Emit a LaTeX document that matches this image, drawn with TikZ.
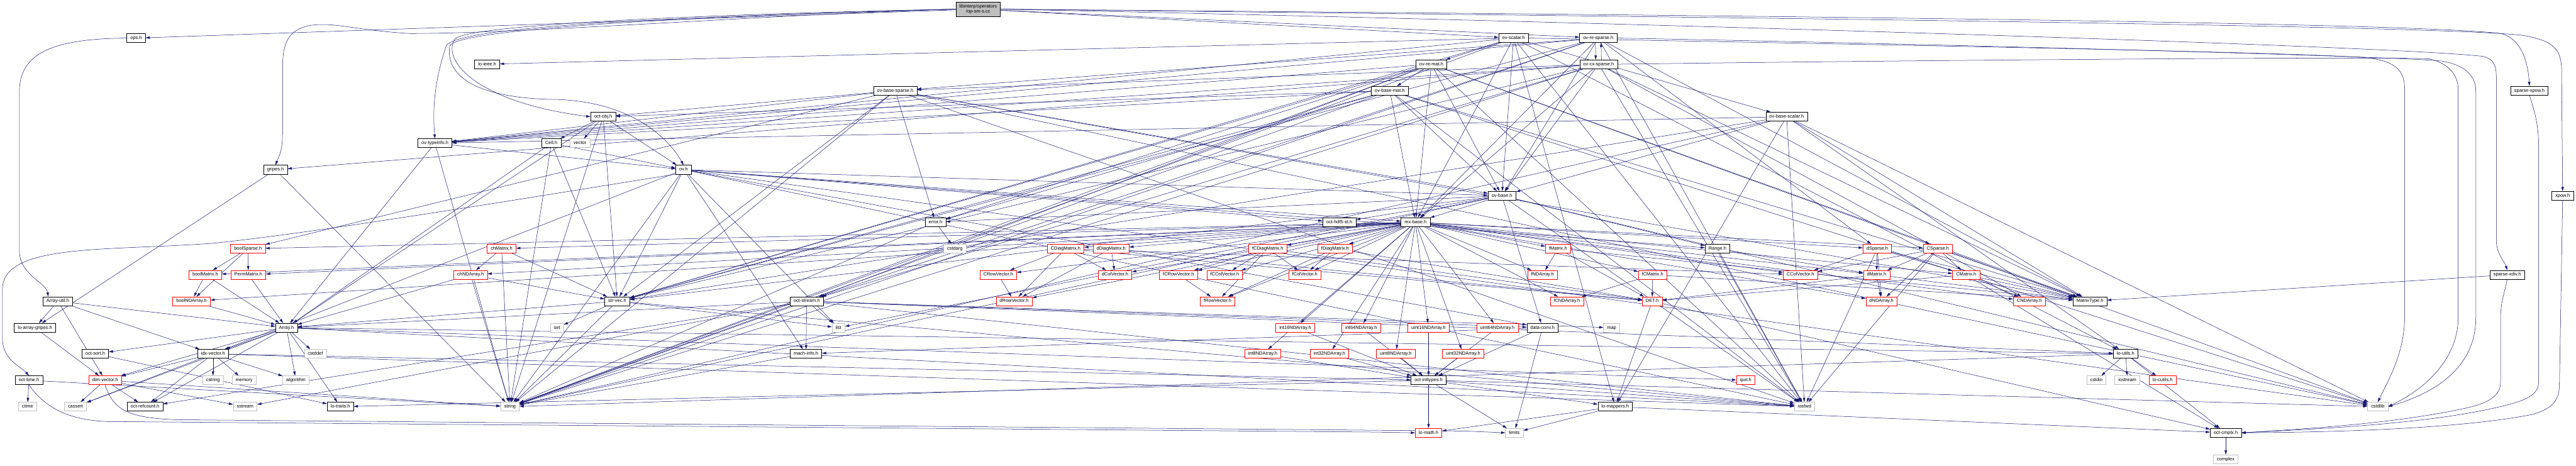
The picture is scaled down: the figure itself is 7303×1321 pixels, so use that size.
\documentclass[tikz,border=0pt]{standalone}
\usepackage{fontspec}
\setmainfont{Liberation Sans}
\usetikzlibrary{arrows.meta}
\definecolor{edgecol}{HTML}{191970}
\definecolor{sysgray}{HTML}{BFBFBF}
\newcommand{\fnt}{\fontsize{13.3}{15.5}\selectfont}
\newcommand{\myedges}[2]{\foreach \t in {#2} {\draw[e] (#1) -- (\t);}}
\pgfdeclarelayer{bg}
\pgfsetlayers{bg,main}
\tikzset{
  nd/.style={draw=black, fill=white, line width=1pt, inner xsep=10pt, inner ysep=0pt,
    minimum height=25pt, font=\fnt, text height=10pt, text depth=3pt},
  rd/.style={nd, draw=red},
  sy/.style={nd, draw=sysgray},
  rt/.style={draw=black, fill=sysgray, line width=1pt, inner xsep=10pt, inner ysep=4pt,
    minimum height=40pt, font=\fnt, align=center},
  e/.style={draw=edgecol, line width=0.9pt, -{Triangle[length=12pt,width=7pt]}}
}
\begin{document}
\begin{tikzpicture}[x=1pt,y=-1pt]
\useasboundingbox (0,0) rectangle (7303,1321);
% row 0
\node[rt] (root) at (2773,26) {libinterp/operators\\/op-sm-s.cc};
% row 1 (108)
\node[nd] (ops) at (386,108) {ops.h};
\node[nd] (ovscalar) at (4291,108) {ov-scalar.h};
\node[nd] (ovresparse) at (4531,108) {ov-re-sparse.h};
% row 2 (182)
\node[nd] (loieee) at (1381,182) {lo-ieee.h};
\node[nd] (ovremat) at (4058,182) {ov-re-mat.h};
\node[nd] (ovcxsparse) at (4532,182) {ov-cx-sparse.h};
% row 3 (257)
\node[nd] (ovbasesparse) at (2538,257) {ov-base-sparse.h};
\node[nd] (ovbasemat) at (3940,257) {ov-base-mat.h};
\node[nd] (sparsexpow) at (7171,257) {sparse-xpow.h};
% row 4 (331)
\node[nd] (octobj) at (1710,331) {oct-obj.h};
\node[nd] (ovbasescalar) at (5065,331) {ov-base-scalar.h};
% row 5 (406)
\node[nd] (ovtypeinfo) at (1233,406) {ov-typeinfo.h};
\node[nd] (cell) at (1563,406) {Cell.h};
\node[sy] (vector) at (1644,406) {vector};
% row 6 (481)
\node[nd] (gripes) at (781,481) {gripes.h};
\node[nd] (ov) at (1938,481) {ov.h};
% row 7 (555)
\node[nd] (ovbase) at (4258,555) {ov-base.h};
\node[nd] (xpow) at (7265,555) {xpow.h};
% row 8 (630)
\node[nd] (error) at (2652,630) {error.h};
\node[nd] (hdf5) at (3797,630) {oct-hdf5-id.h};
\node[nd] (mxbase) at (4013,630) {mx-base.h};
% row 9 (705)
\node[rd] (boolSparse) at (703,705) {boolSparse.h};
\node[rd] (chMatrix) at (1422,705) {chMatrix.h};
\node[sy] (cstdarg) at (2707,705) {cstdarg};
\node[rd] (CDiagMatrix) at (3021,705) {CDiagMatrix.h};
\node[rd] (dDiagMatrix) at (3150,705) {dDiagMatrix.h};
\node[rd] (fCDiagMatrix) at (3594,705) {fCDiagMatrix.h};
\node[rd] (fDiagMatrix) at (3785,705) {fDiagMatrix.h};
\node[rd] (fMatrix) at (4417,705) {fMatrix.h};
\node[nd] (Range) at (4869,705) {Range.h};
\node[rd] (dSparse) at (5322,705) {dSparse.h};
\node[rd] (CSparse) at (5494,705) {CSparse.h};
% row 10 (779)
\node[rd] (boolMatrix) at (582,779) {boolMatrix.h};
\node[rd] (PermMatrix) at (704,779) {PermMatrix.h};
\node[rd] (chNDArray) at (1334,779) {chNDArray.h};
\node[rd] (CRowVector) at (2830,779) {CRowVector.h};
\node[rd] (dColVector) at (3161,779) {dColVector.h};
\node[rd] (fCRowVector) at (3341,779) {fCRowVector.h};
\node[rd] (fCColVector) at (3472,779) {fCColVector.h};
\node[rd] (fColVector) at (3699,779) {fColVector.h};
\node[rd] (fNDArray) at (4373,779) {fNDArray.h};
\node[rd] (fCMatrix) at (4685,779) {fCMatrix.h};
\node[rd] (CColVector) at (5104,779) {CColVector.h};
\node[rd] (dMatrix) at (5320,779) {dMatrix.h};
\node[rd] (CMatrix) at (5574,779) {CMatrix.h};
\node[nd] (sparsexdiv) at (7108,779) {sparse-xdiv.h};
% row 11 (854)
\node[nd] (Arrayutil) at (164,854) {Array-util.h};
\node[rd] (boolNDArray) at (543,854) {boolNDArray.h};
\node[nd] (strvec) at (1750,854) {str-vec.h};
\node[nd] (octstream) at (2287,854) {oct-stream.h};
\node[rd] (dRowVector) at (2875,854) {dRowVector.h};
\node[rd] (fRowVector) at (3452,854) {fRowVector.h};
\node[rd] (fCNDArray) at (4442,854) {fCNDArray.h};
\node[rd] (DET) at (4684,854) {DET.h};
\node[rd] (dNDArray) at (5334,854) {dNDArray.h};
\node[rd] (CNDArray) at (5753,854) {CNDArray.h};
\node[nd] (MatrixType) at (5925,854) {MatrixType.h};
% row 12 (929)
\node[nd] (loarraygripes) at (99,929) {lo-array-gripes.h};
\node[nd] (Array) at (812,929) {Array.h};
\node[sy] (set) at (1579,929) {set};
\node[sy] (list) at (2377,929) {list};
\node[rd] (int16) at (3672,929) {int16NDArray.h};
\node[rd] (int64) at (3859,929) {int64NDArray.h};
\node[rd] (uint16) at (4050,929) {uint16NDArray.h};
\node[rd] (uint64) at (4245,929) {uint64NDArray.h};
\node[nd] (dataconv) at (4373,929) {data-conv.h};
\node[sy] (map) at (4569,929) {map};
% row 13 (1003)
\node[nd] (octsort) at (270,1003) {oct-sort.h};
\node[nd] (idxvector) at (604,1003) {idx-vector.h};
\node[sy] (cstddef) at (894,1003) {cstddef};
\node[nd] (machinfo) at (2285,1003) {mach-info.h};
\node[rd] (int8) at (3580,1003) {int8NDArray.h};
\node[rd] (int32) at (3769,1003) {int32NDArray.h};
\node[rd] (uint8) at (3957,1003) {uint8NDArray.h};
\node[rd] (uint32) at (4148,1003) {uint32NDArray.h};
\node[nd] (loutils) at (6026,1003) {lo-utils.h};
% row 14 (1078)
\node[nd] (octtime) at (82,1078) {oct-time.h};
\node[rd] (dimvector) at (298,1078) {dim-vector.h};
\node[sy] (cstring) at (604,1078) {cstring};
\node[sy] (memory) at (692,1078) {memory};
\node[sy] (algorithm) at (839,1078) {algorithm};
\node[nd] (octinttypes) at (4050,1078) {oct-inttypes.h};
\node[rd] (quit) at (4949,1078) {quit.h};
\node[sy] (cstdio) at (5943,1078) {cstdio};
\node[sy] (iostream) at (6031,1078) {iostream};
\node[rd] (locutils) at (6131,1078) {lo-cutils.h};
% row 15 (1153)
\node[sy] (ctime) at (78,1153) {ctime};
\node[sy] (cassert) at (214,1153) {cassert};
\node[nd] (octrefcount) at (411,1153) {oct-refcount.h};
\node[sy] (sstream) at (695,1153) {sstream};
\node[nd] (lotraits) at (965,1153) {lo-traits.h};
\node[sy] (string) at (1446,1153) {string};
\node[nd] (lomappers) at (4579,1153) {lo-mappers.h};
\node[sy] (iosfwd) at (5116,1153) {iosfwd};
\node[sy] (cstdlib) at (6741,1153) {cstdlib};
% row 16 (1227)
\node[rd] (lomath) at (4050,1227) {lo-math.h};
\node[sy] (limits) at (4293,1227) {limits};
\node[nd] (octcmplx) at (6310,1227) {oct-cmplx.h};
% row 17
\node[sy] (complex) at (6310,1302) {complex};

\begin{pgfonlayer}{bg}
% routed edges from the root
\myedges{root}{ops,ovscalar,ovresparse}
\draw[e] (root.west) .. controls (2200,40) and (1500,95) .. (1161,95)
  .. controls (1000,85) and (950,62) .. (880,72)
  .. controls (810,85) and (801,130) .. (801,200) -- (801,380)
  .. controls (801,430) and (788,450) .. (gripes.north);
\draw[e] (root.west) .. controls (1800,50) and (1290,80) .. (1265,130)
  .. controls (1225,250) and (1228,330) .. (ovtypeinfo.north);
\draw[e] (root.west) .. controls (2000,40) and (1330,70) .. (1290,110)
  .. controls (1250,170) and (1350,290) .. (octobj.west);
\draw[e] (root.west) .. controls (2000,45) and (1300,80) .. (1275,130)
  .. controls (1260,230) and (1380,280) .. (1580,282)
  .. controls (1800,290) and (1900,400) .. (ov.north);
\draw[e] (root.east) .. controls (4500,40) and (6800,60) .. (7090,95)
  .. controls (7150,110) and (7167,180) .. (sparsexpow.north);
\draw[e] (root.east) .. controls (4500,45) and (6900,70) .. (7150,100)
  .. controls (7240,115) and (7262,140) .. (7262,200) -- (xpow.north);
\draw[e] (root.east) .. controls (4500,60) and (6800,130) .. (7040,160)
  .. controls (7070,168) and (7077,185) .. (7077,220) -- (7077,680)
  .. controls (7077,720) and (7100,740) .. (sparsexdiv.north);
% far right column to oct-cmplx.h
\draw[e] (sparsexpow.south) .. controls (7190,330) and (7197,360) .. (7197,420) -- (7197,1083)
  .. controls (7197,1120) and (7160,1135) .. (7100,1150) .. controls (6900,1200) and (6600,1215) .. (octcmplx.east);
\draw[e] (xpow.south) -- (7256,1090) .. controls (7256,1140) and (7230,1160) .. (7180,1175)
  .. controls (7000,1210) and (6700,1225) .. (octcmplx.east);
\draw[e] (sparsexdiv.south) .. controls (7100,830) and (7089,860) .. (7089,900) -- (7089,1083)
  .. controls (7089,1120) and (7060,1140) .. (7000,1155) .. controls (6800,1200) and (6550,1215) .. (octcmplx.east);
\myedges{sparsexdiv}{MatrixType}
% ov-scalar.h etc.
\myedges{ovscalar}{loieee,lomappers,loutils,mxbase,strvec,ovbase,ovremat,ovbasescalar,ovtypeinfo,iosfwd,string}
\draw[e] (ovscalar.east) .. controls (5500,130) and (6600,150) .. (6720,165)
  .. controls (6790,175) and (6817,200) .. (6817,250) -- (6817,900)
  .. controls (6817,1000) and (6770,1080) .. (cstdlib.north);
\myedges{ovresparse}{mxbase,strvec,octstream,ovbase,ovtypeinfo,dSparse,MatrixType,ovbasesparse,iosfwd,string}
\draw[e] (ovresparse.east) .. controls (5500,125) and (6800,160) .. (6922,173)
  .. controls (6990,185) and (7019,215) .. (7019,260) -- (7019,900)
  .. controls (7019,1010) and (6950,1100) .. (cstdlib.east);
\myedges{ovcxsparse}{mxbase,strvec,gripes,octstream,ovbase,ovtypeinfo,CSparse,MatrixType,ovbasesparse,iosfwd,string}
\draw[e] (ovcxsparse.east) .. controls (5500,170) and (6800,160) .. (6888,167)
  .. controls (6940,180) and (6969,210) .. (6969,255) -- (6969,900)
  .. controls (6969,1000) and (6900,1090) .. (cstdlib.east);
\draw[e] ([xshift=-8pt]ovresparse.south) -- ([xshift=-8pt]ovcxsparse.north);
\draw[e] ([xshift=8pt]ovcxsparse.north) -- ([xshift=8pt]ovresparse.south);
\myedges{ovremat}{mxbase,strvec,error,octstream,ovbase,ovbasemat,ovtypeinfo,MatrixType,cstdlib,iosfwd,string}
\myedges{ovbasemat}{mxbase,strvec,MatrixType,error,octobj,ovbase,ovtypeinfo,cstdlib,iosfwd,string}
\myedges{ovbasescalar}{lomappers,loutils,strvec,MatrixType,ovbase,ovtypeinfo,cstdlib,iosfwd,string}
\myedges{ovbasesparse}{strvec,error,octobj,ovbase,ovtypeinfo,boolSparse,MatrixType,cstdlib,iosfwd,string}
% ops.h down the left side
\draw[e] (ops.west) .. controls (150,110) and (55,150) .. (55,260) -- (55,710)
  .. controls (55,780) and (130,800) .. ([xshift=-27pt]Arrayutil.north);
\myedges{gripes}{loarraygripes,string}
\myedges{octobj}{string,vector,strvec,Array,cell,ov}
\myedges{cell}{string,Array,strvec,ov}
\myedges{ovtypeinfo}{string,Array,ov}
\myedges{ov}{cstdlib,iosfwd,string,list,Range,dataconv,idxvector,machinfo,mxbase,strvec,hdf5,ovbase}
\draw[e] (ov.south west) .. controls (1500,560) and (900,660) .. (600,690)
  .. controls (300,712) and (7,690) .. (7,820) -- (7,960)
  .. controls (7,1020) and (60,1040) .. (octtime.north);
\myedges{ovbase}{cstdlib,iosfwd,list,string,Range,dataconv,mxbase,strvec,error,hdf5}
\myedges{error}{cstdarg,string}
\myedges{mxbase}{boolMatrix,chMatrix,dMatrix,CMatrix,fMatrix,fCMatrix,dColVector,CColVector,fColVector,fCColVector,dRowVector,CRowVector,fRowVector,fCRowVector,dDiagMatrix,CDiagMatrix,fDiagMatrix,fCDiagMatrix,PermMatrix,boolSparse,dSparse,CSparse,boolNDArray,chNDArray,dNDArray,CNDArray,fNDArray,fCNDArray,int8,int16,int32,int64,uint8,uint16,uint32,uint64}
\myedges{Arrayutil}{Array,dimvector,idxvector,loarraygripes}
\myedges{loarraygripes}{dimvector}
\myedges{Array}{cassert,cstddef,algorithm,iosfwd,dimvector,idxvector,lotraits,loutils,octsort,quit,octrefcount}
\myedges{octsort}{lotraits}
\myedges{idxvector}{cassert,cstring,algorithm,iosfwd,memory,dimvector,octinttypes,octrefcount}
\myedges{octtime}{ctime,string}
\draw[e] (octtime.south) .. controls (130,1160) and (200,1190) .. (300,1195) -- (3900,1225) -- (lomath.west);
\myedges{dimvector}{cassert,sstream,string,octrefcount}
\draw[e] (dimvector.south) .. controls (320,1160) and (360,1185) .. (500,1190) -- (4150,1222) -- (limits.west);
\myedges{strvec}{iosfwd,list,set,string,Array}
\myedges{octstream}{iosfwd,sstream,string,list,map,Array,dataconv,loutils,machinfo,octrefcount}
\myedges{machinfo}{string}
\myedges{dataconv}{limits,octinttypes,machinfo}
\myedges{Range}{iosfwd,dMatrix}
\myedges{int8}{octinttypes}
\myedges{int16}{octinttypes}
\myedges{int32}{octinttypes}
\myedges{int64}{octinttypes}
\myedges{uint8}{octinttypes}
\myedges{uint16}{octinttypes}
\myedges{uint32}{octinttypes}
\myedges{uint64}{octinttypes}
\myedges{octinttypes}{cstdlib,limits,iosfwd,lotraits,lomath,lomappers}
\myedges{lomappers}{limits,lomath,octcmplx}
\myedges{loutils}{cstdio,iostream,string,locutils,octcmplx}
\myedges{octcmplx}{complex}
\myedges{boolSparse}{boolMatrix,PermMatrix,boolNDArray}
\myedges{boolMatrix}{boolNDArray,Array}
\myedges{PermMatrix}{Array}
\myedges{boolNDArray}{Array}
\myedges{chMatrix}{chNDArray,strvec,string}
\myedges{chNDArray}{strvec,string,Array}
\myedges{CDiagMatrix}{CRowVector,dRowVector,dColVector,CColVector,DET}
\myedges{dDiagMatrix}{dColVector,dRowVector,DET}
\myedges{fCDiagMatrix}{fCRowVector,fCColVector,fColVector,fRowVector,DET}
\myedges{fDiagMatrix}{fColVector,fRowVector,DET}
\myedges{CRowVector}{dRowVector}
\myedges{fCRowVector}{fRowVector}
\myedges{fMatrix}{fNDArray,DET,MatrixType}
\myedges{fCMatrix}{fCNDArray,DET,MatrixType}
\myedges{dSparse}{dMatrix,dNDArray,CColVector,CMatrix,MatrixType,iosfwd}
\myedges{CSparse}{dMatrix,dNDArray,CColVector,CMatrix,CNDArray,MatrixType,iosfwd}
\myedges{dMatrix}{dNDArray,MatrixType,DET}
\myedges{CMatrix}{CNDArray,MatrixType,DET,octcmplx}
\myedges{DET}{lomappers,octcmplx}
\end{pgfonlayer}
\end{tikzpicture}
\end{document}
